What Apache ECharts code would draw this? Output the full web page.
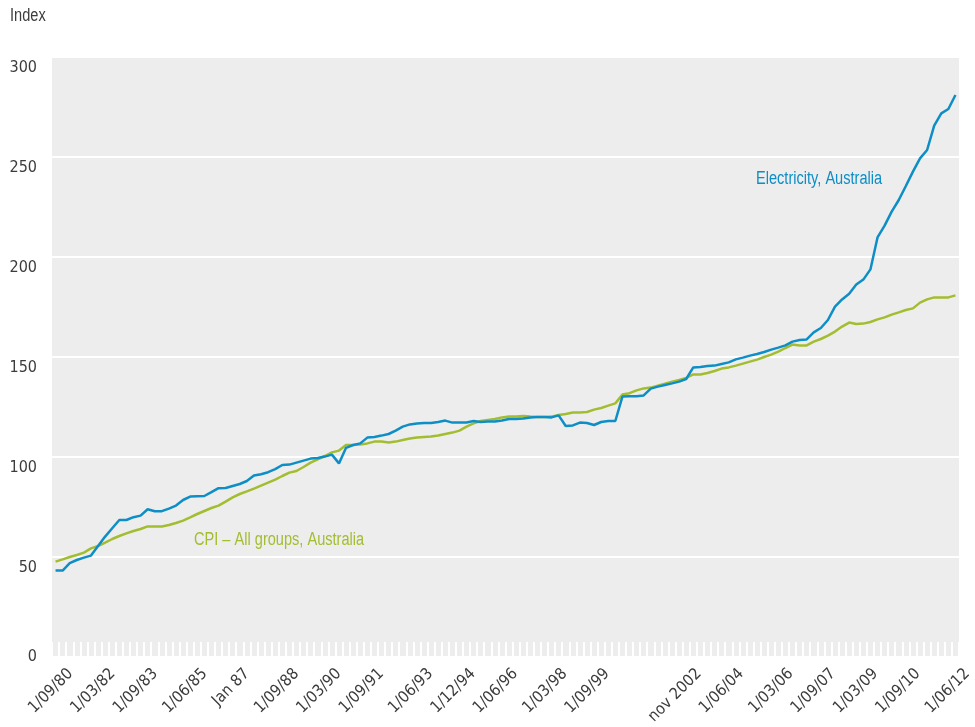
<!DOCTYPE html>
<html>
<head>
<meta charset="utf-8">
<script src="https://cdn.jsdelivr.net/npm/echarts@6/dist/echarts.min.js"></script>
<style>
  html, body { margin: 0; padding: 0; background: #fff; }
  #chart { width: 975px; height: 727px; }
</style>
</head>
<body>
<div id="chart"></div>
<script>
// quarterly, Sep 1980 .. Jun 2012
var firstYear = 1980, firstMonth = 9, quarterCount = 128;

var tickQuarters = ['1980-09','1982-03','1983-09','1985-06','1986-12','1988-09','1990-03','1991-09','1993-06','1994-12',
	'1996-06','1998-03','1999-09','2002-12','2004-06','2006-03','2007-09','2009-03','2010-09','2012-06'];
var tickLabels = ['1/09/80','1/03/82','1/09/83','1/06/85','Jan 87','1/09/88','1/03/90','1/09/91','1/06/93','1/12/94',
	'1/06/96','1/03/98','1/09/99','nov 2002','1/06/04','1/03/06','1/09/07','1/03/09','1/09/10','1/06/12'];

var electricity = [
	43.2, 43.2, 46.9, 48.5, 49.7, 50.7, 55.5, 60.2, 64.4, 68.5,
	68.5, 69.9, 70.7, 73.9, 72.9, 72.9, 74.2, 75.7, 78.5, 80.2,
	80.4, 80.5, 82.4, 84.4, 84.5, 85.5, 86.5, 88.0, 90.7, 91.4,
	92.4, 93.9, 96.0, 96.2, 97.2, 98.2, 99.2, 99.5, 100.2, 101.2,
	96.8, 104.6, 106.0, 106.8, 109.7, 110.0, 110.7, 111.5, 113.2, 115.2,
	116.3, 116.8, 117.0, 117.0, 117.5, 118.2, 117.2, 117.2, 117.3, 118.0,
	117.5, 117.7, 117.7, 118.3, 119.0, 119.0, 119.2, 119.8, 120.0, 120.0,
	119.8, 120.8, 115.5, 115.8, 117.2, 117.0, 116.0, 117.5, 118.0, 118.0,
	130.2, 130.4, 130.4, 130.8, 134.2, 135.2, 136.0, 136.8, 137.7, 139.0,
	144.8, 145.0, 145.5, 145.7, 146.5, 147.3, 148.8, 149.7, 150.7, 151.5,
	152.5, 153.7, 154.7, 155.8, 157.7, 158.5, 158.8, 162.3, 164.5, 168.5,
	175.2, 178.8, 181.6, 186.2, 188.7, 193.8, 209.8, 215.7, 222.7, 228.5,
	235.5, 242.7, 249.3, 253.5, 265.7, 271.8, 274.0, 281.0
];

var cpi = [
	47.7, 48.8, 50.0, 51.0, 52.2, 54.3, 55.5, 57.2, 59.0, 60.5,
	61.8, 63.0, 64.0, 65.3, 65.2, 65.3, 66.0, 67.0, 68.2, 69.8,
	71.5, 73.0, 74.5, 75.7, 77.7, 79.8, 81.5, 82.8, 84.2, 85.7,
	87.2, 88.7, 90.5, 92.2, 93.0, 95.0, 97.2, 98.8, 100.5, 102.3,
	103.2, 106.0, 106.0, 106.3, 106.8, 107.7, 107.7, 107.3, 107.7, 108.5,
	109.2, 109.7, 110.0, 110.2, 110.8, 111.5, 112.2, 113.2, 115.2, 116.8,
	118.0, 118.5, 119.0, 119.8, 120.2, 120.3, 120.5, 120.2, 120.0, 120.0,
	120.2, 121.0, 121.5, 122.2, 122.2, 122.5, 123.7, 124.5, 125.7, 126.8,
	131.2, 131.9, 133.3, 134.3, 134.7, 135.7, 136.7, 137.7, 138.5, 139.5,
	141.3, 141.3, 142.0, 143.0, 144.2, 144.8, 145.7, 146.7, 147.7, 148.7,
	150.0, 151.2, 152.7, 154.5, 156.2, 155.8, 155.8, 157.7, 159.0, 160.7,
	162.7, 165.2, 167.2, 166.5, 166.7, 167.5, 168.8, 169.8, 171.2, 172.3,
	173.5, 174.3, 177.2, 178.8, 179.8, 179.8, 179.8, 180.8
];

var AXIS_FONT = "'DejaVu Sans Condensed', 'Liberation Sans', sans-serif";
var NOTE_FONT = "'Liberation Sans', Arial, sans-serif";
var TEXT_GREY = '#3c3c3c';
var BLUE = '#0e8ec6';
var GREEN = '#a3bd31';

function buildQuarters() {
	var list = [];
	var y = firstYear, m = firstMonth;
	for (var i = 0; i < quarterCount; i++) {
		list.push(y + '-' + (m < 10 ? '0' + m : m));
		m += 3;
		if (m > 12) { m -= 12; y++; }
	}
	return list;
}

// narrow looking text: no condensed Helvetica here, so squeeze Liberation Sans
function noteText(text, left, top, color) {
	return {
		type: 'text',
		left: left,
		top: top,
		scaleX: 0.81,
		style: { text: text, font: '18px ' + NOTE_FONT, fill: color }
	};
}

function drawChart() {
	var quarters = buildQuarters();
	var myChart = echarts.init(document.getElementById('chart'));

	var option = {
		animation: false,
		textStyle: { fontFamily: AXIS_FONT },
		grid: [
			{ left: 52, right: 16, top: 57, bottom: 70, show: true, backgroundColor: '#ededed', borderWidth: 0 },
			// label-only grid, nudged right so rotated labels end past their quarter
			{ left: 67, right: 1, top: 57, bottom: 70, show: false }
		],
		xAxis: [
			{
				type: 'category',
				gridIndex: 0,
				data: quarters,
				boundaryGap: true,
				axisLine: { show: false },
				axisTick: { show: true, inside: true, length: 15, interval: 0, lineStyle: { color: '#ffffff', width: 2 } },
				axisLabel: { show: false },
				splitLine: { show: false }
			},
			{
				type: 'category',
				gridIndex: 1,
				data: quarters,
				boundaryGap: true,
				axisLine: { show: false },
				axisTick: { show: false },
				splitLine: { show: false },
				axisLabel: {
					show: true,
					rotate: 45,
					margin: 30,
					fontFamily: AXIS_FONT,
					fontSize: 16,
					color: TEXT_GREY,
					interval: function (index, value) {
						return tickQuarters.indexOf(value) >= 0;
					},
					formatter: function (value) {
						return tickLabels[tickQuarters.indexOf(value)];
					}
				}
			}
		],
		yAxis: [
			{
				type: 'value',
				gridIndex: 0,
				min: 0,
				max: 300,
				interval: 50,
				axisLine: { show: false },
				axisTick: { show: false },
				splitLine: { show: true, lineStyle: { color: '#ffffff', width: 2 } },
				axisLabel: {
					margin: 15,
					fontFamily: AXIS_FONT,
					fontSize: 16,
					color: TEXT_GREY,
					formatter: function (v) {
						return v === 0 ? '{z|0}' : '{n|' + v + '}';
					},
					rich: {
						n: { fontFamily: AXIS_FONT, fontSize: 16, color: TEXT_GREY, padding: [22, 0, 0, 0] },
						z: { fontFamily: AXIS_FONT, fontSize: 16, color: TEXT_GREY }
					}
				}
			},
			{ type: 'value', gridIndex: 1, min: 0, max: 300, show: false }
		],
		graphic: [
			noteText('Index', 10, 7, TEXT_GREY),
			noteText('Electricity, Australia', 756, 170, BLUE),
			noteText('CPI \u2013 All groups, Australia', 194, 531, GREEN)
		],
		series: [
			{
				name: 'CPI - All groups, Australia',
				type: 'line',
				xAxisIndex: 0,
				yAxisIndex: 0,
				data: cpi,
				showSymbol: false,
				lineStyle: { color: GREEN, width: 2.5 },
				z: 3
			},
			{
				name: 'Electricity, Australia',
				type: 'line',
				xAxisIndex: 0,
				yAxisIndex: 0,
				data: electricity,
				showSymbol: false,
				lineStyle: { color: BLUE, width: 2.5 },
				z: 4
			}
		]
	};

	myChart.setOption(option);
}

drawChart();
</script>
</body>
</html>
